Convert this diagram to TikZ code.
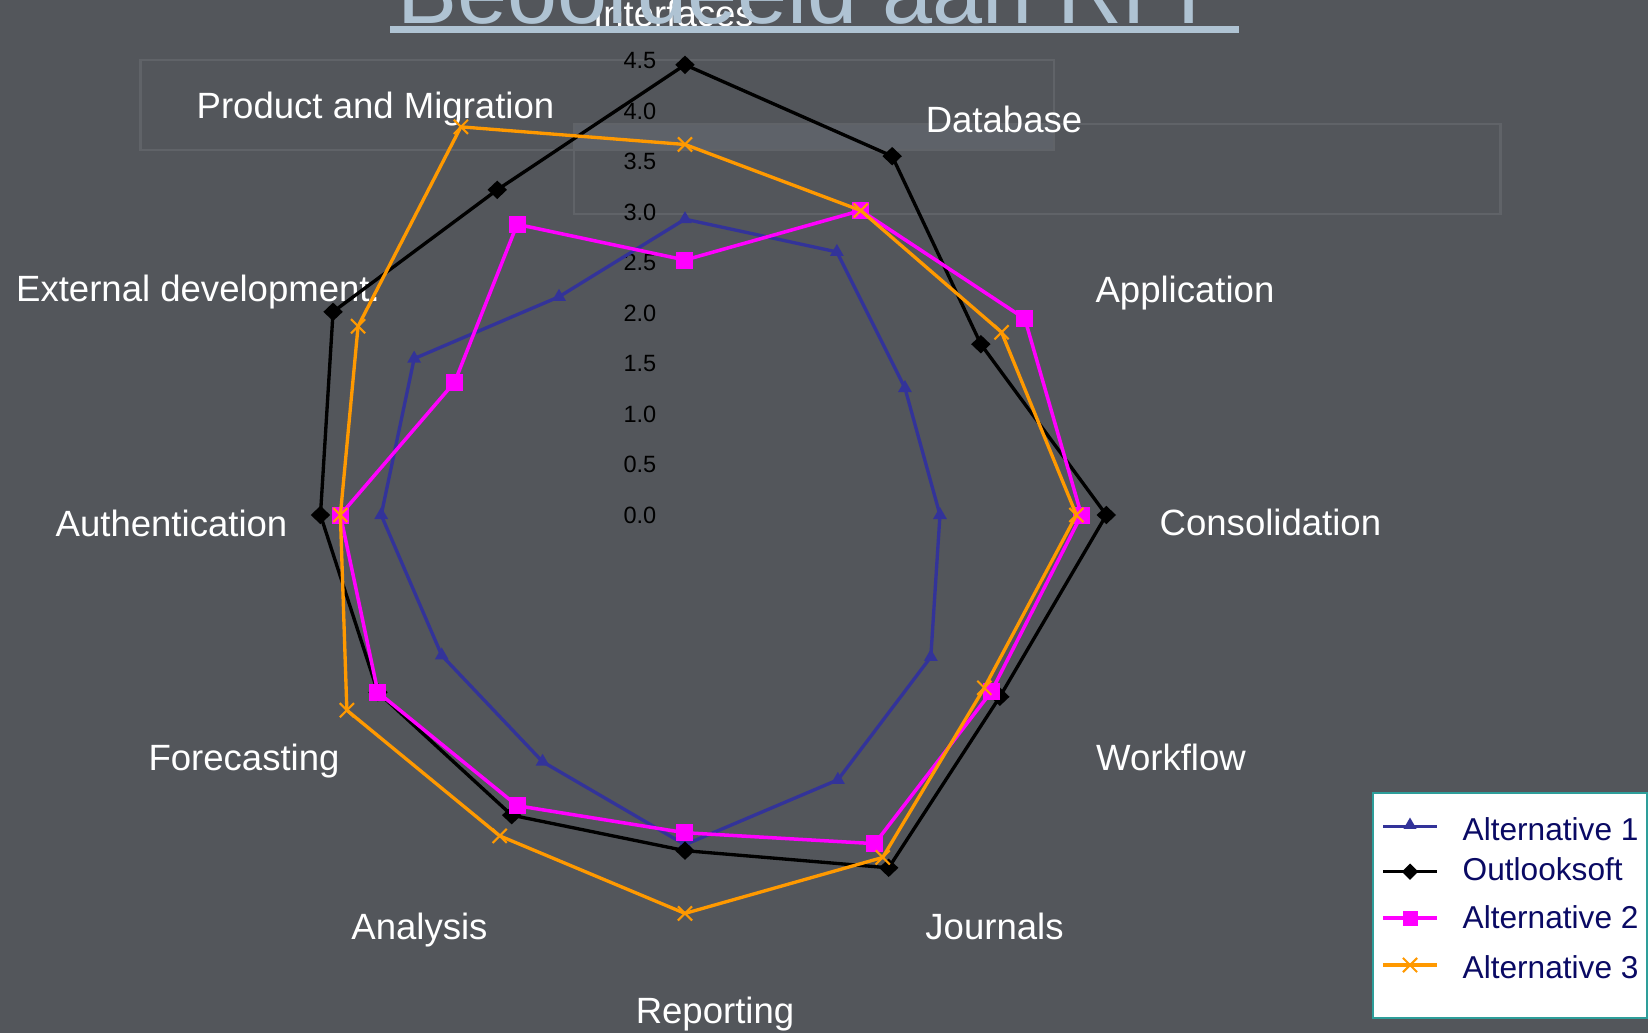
\documentclass[tikz,border=0pt]{standalone}
\usepackage{fontspec}
\setmainfont{Liberation Sans}
\usetikzlibrary{shapes.geometric,shapes.misc}
\definecolor{slide}{HTML}{53565B}
\definecolor{frameline}{HTML}{606368}
\definecolor{frameover}{HTML}{5E6269}
\definecolor{titleblue}{HTML}{AFC3D3}
\definecolor{altone}{HTML}{333399}
\definecolor{alttwo}{HTML}{FF00FF}
\definecolor{altthree}{HTML}{FF9900}
\definecolor{legline}{HTML}{2E9E9A}
\definecolor{legtext}{HTML}{0A0A64}
\tikzset{
  axislabel/.style={text=white,font=\fontsize{10.4}{12}\selectfont,anchor=base,inner sep=0pt},
  ticklabel/.style={text=black,font=\fontsize{6.7}{8}\selectfont,anchor=east,inner sep=0pt},
  legendtext/.style={text=legtext,font=\fontsize{9}{11}\selectfont,anchor=base west,inner sep=0pt},
  oneline/.style={altone,line width=0.95pt,line join=round},
  outline/.style={black,line width=0.95pt,line join=round},
  twoline/.style={alttwo,line width=1pt,line join=round},
  threeline/.style={altthree,line width=0.95pt,line join=round},
  tri/.style={regular polygon,regular polygon sides=3,fill=altone,inner sep=0pt,minimum size=0.16cm},
  dia/.style={diamond,fill=black,inner sep=0pt,minimum width=0.2cm,minimum height=0.19cm},
  sq/.style={rectangle,fill=alttwo,inner sep=0pt,minimum size=0.17cm},
  crs/.style={cross out,draw=altthree,line width=0.6pt,inner sep=0pt,minimum size=0.12cm}
}
\begin{document}
\begin{tikzpicture}
\useasboundingbox (-6.85,-5.18) rectangle (9.63,5.15);
\fill[slide] (-6.85,-5.18) rectangle (9.63,5.15);
% slide frames
\fill[frameover] (-1.11,3.91) rectangle (3.69,3.65);
\draw[frameline,line width=0.85pt] (-5.44,4.55) rectangle (3.69,3.65);
\draw[frameline,line width=0.85pt] (-1.11,3.91) rectangle (8.15,3.01);
% axis names
\node[axislabel] (interfaces) at (-0.115,4.88) {Interfaces};
\node[axislabel] (database) at (3.19,3.83) {Database};
\node[axislabel] (application) at (5.00,2.13) {Application};
\node[axislabel,anchor=base west] (consolidation) at (4.74,-0.20) {Consolidation};
\node[axislabel] (workflow) at (4.86,-2.55) {Workflow};
\node[axislabel] (journals) at (3.095,-4.24) {Journals};
\node[axislabel] (reporting) at (0.30,-5.08) {Reporting};
\node[axislabel] (analysis) at (-2.655,-4.24) {Analysis};
\node[axislabel] (forecasting) at (-4.41,-2.55) {Forecasting};
\node[axislabel] (authentication) at (-5.135,-0.21) {Authentication};
\node[axislabel] (external) at (-4.87,2.14) {External development.};
\node[axislabel] (product) at (-3.095,3.97) {Product and Migration};
% title
\node[anchor=base west,inner sep=0pt,text=titleblue,font=\fontsize{25.6}{30}\selectfont] (title) at (-2.88,4.91) {Beoordeeld aan RFP};
\fill[titleblue] (-2.95,4.89) rectangle (5.54,4.82);
% scale
\foreach \t [count=\k] in {0.0,0.5,1.0,1.5,2.0,2.5,3.0,3.5,4.0,4.5}
    \node[ticklabel] (tick\k) at (-0.28,{\t*1.01}) {\t};
% Alternative 1
\foreach \v [count=\i from 0] in {2.97,3.05,2.55,2.56,2.85,3.07,3.31,2.86,2.82,3.05,3.14,2.53}
    \coordinate (alt1-\i) at ({90-30*\i}:{\v*0.996});
\draw[oneline] (alt1-0) \foreach \i in {1,...,11}{-- (alt1-\i)} -- cycle;
\foreach \i in {0,...,11} \node[tri] (alt1m-\i) at (alt1-\i) {};
% Outlooksoft
\foreach \v [count=\i from 0] in {4.52,4.16,3.43,4.23,3.65,4.09,3.37,3.48,3.56,3.66,4.08,3.77}
    \coordinate (outl-\i) at ({90-30*\i}:{\v*0.996});
\draw[outline] (outl-0) \foreach \i in {1,...,11}{-- (outl-\i)} -- cycle;
\foreach \i in {0,...,11} \node[dia] (outlm-\i) at (outl-\i) {};
% Alternative 2
\foreach \v [count=\i from 0] in {2.56,3.53,3.94,3.98,3.55,3.81,3.19,3.37,3.56,3.46,2.67,3.37}
    \coordinate (alt2-\i) at ({90-30*\i}:{\v*0.996});
\draw[twoline] (alt2-0) \foreach \i in {1,...,11}{-- (alt2-\i)} -- cycle;
\foreach \i in {0,...,11} \node[sq] (alt2m-\i) at (alt2-\i) {};
% Alternative 3
\foreach \v [count=\i from 0] in {3.72,3.53,3.67,3.93,3.47,3.97,4.00,3.72,3.92,3.46,3.79,4.50}
    \coordinate (alt3-\i) at ({90-30*\i}:{\v*0.996});
\draw[threeline] (alt3-0) \foreach \i in {1,...,11}{-- (alt3-\i)} -- cycle;
\foreach \i in {0,...,11} \node[crs] (alt3m-\i) at (alt3-\i) {};
% legend
\draw[legline,fill=white,line width=0.6pt] (6.88,-2.78) rectangle (9.62,-5.03);
\draw[oneline] (6.98,-3.117) -- (7.52,-3.117);
\node[tri,minimum size=0.15cm] (leg1) at (7.25,-3.10) {};
\node[legendtext] (legt1) at (7.77,-3.25) {Alternative 1};
\draw[outline] (6.98,-3.567) -- (7.52,-3.567);
\node[dia,minimum width=0.17cm,minimum height=0.17cm] (leg2) at (7.25,-3.567) {};
\node[legendtext] (legt2) at (7.77,-3.65) {Outlooksoft};
\draw[twoline] (6.98,-4.03) -- (7.52,-4.03);
\node[sq,minimum size=0.15cm] (leg3) at (7.25,-4.03) {};
\node[legendtext] (legt3) at (7.77,-4.13) {Alternative 2};
\draw[threeline] (6.98,-4.50) -- (7.52,-4.50);
\node[crs] (leg4) at (7.25,-4.50) {};
\node[legendtext] (legt4) at (7.77,-4.63) {Alternative 3};
\end{tikzpicture}
\end{document}
